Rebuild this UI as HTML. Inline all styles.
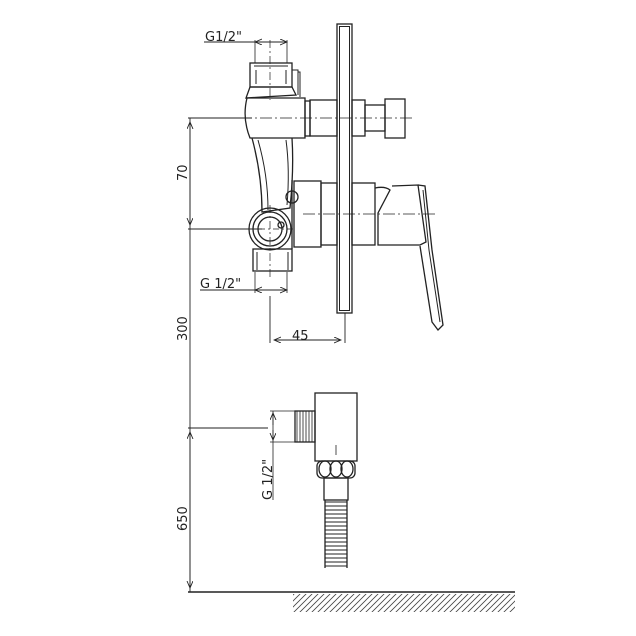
<!DOCTYPE html>
<html><head><style>body{margin:0;background:#fff}svg{display:block}text{font-family:"DejaVu Sans","Liberation Sans",sans-serif;fill:#222}</style></head><body>
<svg width="636" height="636" viewBox="0 0 636 636" xmlns="http://www.w3.org/2000/svg" fill="none" stroke="#222" stroke-width="1.3">
<defs>
<marker id="a" markerWidth="8" markerHeight="8" refX="7" refY="3" orient="auto-start-reverse" markerUnits="userSpaceOnUse"><path d="M0,0 L7,3 L0,6" fill="none" stroke="#222" stroke-width="0.9"/></marker>
<pattern id="h" width="6" height="6" patternUnits="userSpaceOnUse"><path d="M0,6 L6,0 M-1,1 L1,-1 M5,7 L7,5" stroke="#444" stroke-width="0.8"/></pattern>
</defs>
<rect x="337" y="24" width="15" height="289"/>
<rect x="339.5" y="26.5" width="10" height="284" stroke-width="1"/>
<line x1="190" y1="118" x2="190" y2="592" stroke-width="0.9"/>
<line x1="190" y1="122" x2="190" y2="225" marker-start="url(#a)" marker-end="url(#a)" stroke-width="0.9"/>
<line x1="190" y1="432" x2="190" y2="588" marker-start="url(#a)" marker-end="url(#a)" stroke-width="0.9"/>
<line x1="188" y1="118" x2="252" y2="118" stroke-width="0.9"/>
<line x1="188" y1="229" x2="262" y2="229" stroke-width="0.9"/>
<line x1="188" y1="428" x2="268" y2="428" stroke-width="0.9"/>
<line x1="188" y1="592" x2="515" y2="592" stroke-width="1.4"/>
<rect x="293" y="594" width="222" height="18" fill="url(#h)" stroke="none"/>
<g stroke="none" font-size="13">
<text transform="translate(187,181) rotate(-90)">70</text>
<text transform="translate(187,341) rotate(-90)">300</text>
<text transform="translate(187,531) rotate(-90)">650</text>
<text x="205" y="41">G1/2"</text>
<text x="200" y="288">G 1/2"</text>
<text x="292" y="340">45</text>
<text transform="translate(272,500) rotate(-90)">G 1/2"</text>
</g>
<line x1="204" y1="42" x2="287" y2="42" stroke-width="0.9"/>
<line x1="262" y1="42" x2="255" y2="42" marker-end="url(#a)" stroke-width="0.9"/>
<line x1="280" y1="42" x2="287" y2="42" marker-end="url(#a)" stroke-width="0.9"/>
<line x1="255" y1="40" x2="255" y2="63" stroke-width="0.8"/>
<line x1="287" y1="40" x2="287" y2="63" stroke-width="0.8"/>
<line x1="200" y1="290" x2="287" y2="290" stroke-width="0.9"/>
<line x1="262" y1="290" x2="255" y2="290" marker-end="url(#a)" stroke-width="0.9"/>
<line x1="280" y1="290" x2="287" y2="290" marker-end="url(#a)" stroke-width="0.9"/>
<line x1="255" y1="272" x2="255" y2="293" stroke-width="0.8"/>
<line x1="287" y1="272" x2="287" y2="293" stroke-width="0.8"/>
<line x1="270" y1="296" x2="270" y2="343" stroke-width="0.9"/>
<line x1="345" y1="313" x2="345" y2="343" stroke-width="0.9"/>
<line x1="274" y1="340" x2="341" y2="340" marker-start="url(#a)" marker-end="url(#a)" stroke-width="0.9"/>
<rect x="250" y="63" width="42" height="24"/>
<path d="M254,66 h34 M256,70 v14 M286,70 v14" stroke-width="1"/>
<path d="M250,87 L292,87 L296,95 L246,98 Z"/>
<path d="M292,70 h6 v25 M298,72 h2 v25" stroke-width="1"/>
<path d="M247,98 h58 v40 h-55 q-8,-20 -3,-40z"/>
<rect x="305" y="101" width="5" height="35"/>
<path d="M252,138 Q262,175 262,212 L290,208 Q294,170 292,138"/>
<path d="M258,140 Q268,175 268,210 M286,140 Q290,170 287,205" stroke-width="1"/>
<circle cx="292" cy="197" r="6"/>
<circle cx="270" cy="229" r="21"/>
<circle cx="270" cy="229" r="17"/>
<circle cx="270" cy="229" r="12"/>
<circle cx="281" cy="225" r="3"/>
<rect x="253" y="249" width="39" height="22"/>
<path d="M257,252 v18 M288,252 v18" stroke-width="1"/>
<line x1="292" y1="180" x2="292" y2="249"/>
<rect x="310" y="100" width="27" height="36"/>
<rect x="352" y="100" width="13" height="36"/>
<rect x="365" y="105" width="20" height="26"/>
<rect x="385" y="99" width="20" height="39"/>
<line x1="240" y1="118" x2="415" y2="118" stroke-dasharray="12,3,2,3" stroke-width="0.8"/>
<line x1="270" y1="40" x2="270" y2="100" stroke-dasharray="8,3,2,3" stroke-width="0.7"/>
<line x1="270" y1="205" x2="270" y2="280" stroke-dasharray="8,3,2,3" stroke-width="0.7"/>
<line x1="245" y1="229" x2="295" y2="229" stroke-dasharray="6,3,2,3" stroke-width="0.7"/>
<rect x="294" y="181" width="27" height="66"/>
<rect x="321" y="183" width="16" height="62"/>
<rect x="352" y="183" width="23" height="62"/>
<path d="M375,188 Q385,186 390,190 L378,213 L378,245 L420,245 L426,242 L418,185 L392,186"/>
<path d="M418,185 L425,186 L432,250 L443,325 L438,330 L432,322 L420,246"/>
<path d="M423,190 L429,250 L440,322" stroke-width="1"/>
<line x1="303" y1="214" x2="435" y2="214" stroke-dasharray="12,3,2,3" stroke-width="0.8"/>
<rect x="315" y="393" width="42" height="68"/>
<rect x="295" y="411" width="20" height="31"/>
<path d="M297,411 v31 M300,411 v31 M303,411 v31 M306,411 v31 M309,411 v31 M312,411 v31" stroke-width="0.8"/>
<line x1="336" y1="445" x2="336" y2="455" stroke-width="0.8"/>
<rect x="317" y="461" width="38" height="17" rx="5"/>
<ellipse cx="325" cy="469" rx="6" ry="8"/>
<ellipse cx="336" cy="469" rx="6" ry="8"/>
<ellipse cx="347" cy="469" rx="6" ry="8"/>
<rect x="324" y="478" width="24" height="22"/>
<path d="M325,502 h22 M325,506 h22 M325,510 h22 M325,514 h22 M325,518 h22 M325,522 h22 M325,526 h22 M325,530 h22 M325,534 h22 M325,538 h22 M325,542 h22 M325,546 h22 M325,550 h22 M325,554 h22 M325,558 h22 M325,562 h22 M325,566 h22" stroke-width="1"/>
<path d="M325,500 v68 M347,500 v68"/>
<line x1="270" y1="411" x2="295" y2="411" stroke-width="0.8"/>
<line x1="270" y1="442" x2="295" y2="442" stroke-width="0.8"/>
<line x1="273" y1="411" x2="273" y2="500" stroke-width="0.8"/>
<line x1="273" y1="425" x2="273" y2="413" marker-end="url(#a)" stroke-width="0.8"/>
<line x1="273" y1="430" x2="273" y2="440" marker-end="url(#a)" stroke-width="0.8"/>
</svg>
</body></html>
